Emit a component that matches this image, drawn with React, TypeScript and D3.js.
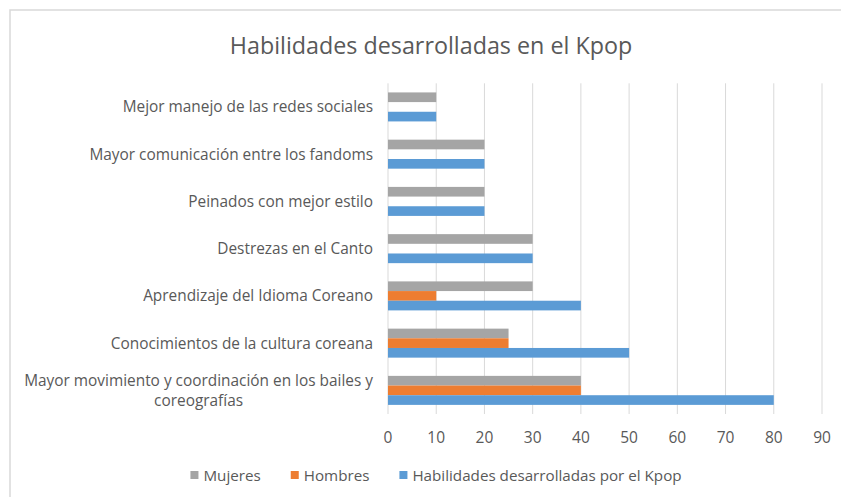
import React, { useEffect, useRef } from 'react';
import * as d3 from 'd3';

// categorias de arriba hacia abajo
const categories = [
  'Mejor manejo de las redes sociales',
  'Mayor comunicación entre los fandoms',
  'Peinados con mejor estilo',
  'Destrezas en el Canto',
  'Aprendizaje del Idioma Coreano',
  'Conocimientos de la cultura coreana',
  'Mayor movimiento y coordinación en los bailes y coreografías',
];
const mujeres = [10, 20, 20, 30, 30, 25, 40];
const hombres = [0, 0, 0, 0, 10, 25, 40];
const habilidades = [10, 20, 20, 30, 40, 50, 80];
const seriesNames = ['Mujeres', 'Hombres', 'Habilidades desarrolladas por el Kpop'];
const seriesColors = ['#a5a5a5', '#ed7d31', '#5b9bd5'];
const xTicks = [0, 10, 20, 30, 40, 50, 60, 70, 80, 90];
const title = 'Habilidades desarrolladas en el Kpop';

const W = 841, H = 497;
const FONT = '"Open Sans", sans-serif';
const TEXT = '#595959';

export default function App() {
  const ref = useRef<SVGSVGElement>(null);

  useEffect(() => {
    document.body.style.margin = '0';
    document.body.style.overflow = 'hidden';
    const svg = d3.select(ref.current);
    svg.selectAll('*').remove();

    const left = 388, right = 822, top = 83.3, bottom = 414;
    const cx = 431;

    // marco del grafico
    svg.append('rect')
      .attr('x', 10).attr('y', 10)
      .attr('width', W + 20).attr('height', H + 20)
      .attr('fill', '#fff')
      .attr('stroke', '#d9d9d9').attr('stroke-width', 1.5);

    svg.append('text')
      .attr('x', cx).attr('y', 45)
      .attr('text-anchor', 'middle').attr('dominant-baseline', 'central')
      .attr('font-family', FONT).attr('font-size', 23.3)
      .attr('fill', TEXT)
      .text(title);

    const x = d3.scaleLinear().domain([0, 90]).range([left, right]);
    const y = d3.scaleBand().domain(categories).range([top, bottom])
      .paddingInner(0.386).paddingOuter(0.193);
    const ys = d3.scaleBand().domain(seriesNames).range([0, y.bandwidth()]);

    // lineas de cuadricula
    svg.append('g').selectAll('line')
      .data(xTicks).enter().append('line')
      .attr('x1', d => x(d)).attr('x2', d => x(d))
      .attr('y1', top).attr('y2', bottom)
      .attr('stroke', '#d9d9d9').attr('stroke-width', 1);

    // etiquetas eje x
    svg.append('g').selectAll('text')
      .data(xTicks).enter().append('text')
      .attr('x', d => x(d)).attr('y', 437)
      .attr('text-anchor', 'middle').attr('dominant-baseline', 'central')
      .attr('font-family', FONT).attr('font-size', 15.5)
      .attr('fill', TEXT)
      .text(d => d);

    // barras
    const values = [mujeres, hombres, habilidades];
    seriesNames.forEach((s, si) => {
      svg.append('g').selectAll('rect')
        .data(categories).enter().append('rect')
        .attr('x', x(0))
        .attr('y', d => (y(d) as number) + (ys(s) as number))
        .attr('width', (d, i) => x(values[si][i]) - x(0))
        .attr('height', ys.bandwidth())
        .attr('fill', seriesColors[si]);
    });

    // etiquetas de categorias (con salto de linea)
    const labelRight = 373, maxW = 360, lineH = 20;
    const gl = svg.append('g')
      .attr('font-family', FONT).attr('font-size', 15.4).attr('fill', TEXT);
    categories.forEach(c => {
      const t = gl.append('text').attr('dominant-baseline', 'central');
      const words = c.split(' ');
      const lines: string[] = [];
      let cur = '';
      words.forEach(w => {
        const test = cur ? cur + ' ' + w : w;
        t.text(test);
        if ((t.node() as SVGTextElement).getComputedTextLength() > maxW && cur) {
          lines.push(cur);
          cur = w;
        } else {
          cur = test;
        }
      });
      lines.push(cur);
      t.text(null);
      const yc = (y(c) as number) + y.bandwidth() / 2;
      if (lines.length === 1) {
        t.attr('x', labelRight).attr('y', yc).attr('text-anchor', 'end').text(lines[0]);
      } else {
        const widths = lines.map(l => { t.text(l); return (t.node() as SVGTextElement).getComputedTextLength(); });
        t.text(null);
        const mid = labelRight - d3.max(widths)! / 2;
        t.attr('text-anchor', 'middle');
        lines.forEach((l, i) => {
          t.append('tspan')
            .attr('x', mid)
            .attr('y', yc + (i - (lines.length - 1) / 2) * lineH)
            .text(l);
        });
      }
    });

    // leyenda
    const lg = svg.append('g').attr('font-family', FONT).attr('font-size', 15.2).attr('fill', TEXT);
    const box = 8, boxGap = 5, itemGap = 30, ly = 475;
    const items = seriesNames.map((s, i) => {
      const t = lg.append('text').attr('dominant-baseline', 'central').attr('y', ly).text(s);
      const w = (t.node() as SVGTextElement).getComputedTextLength();
      return { t, w, i };
    });
    const total = d3.sum(items, d => box + boxGap + d.w) + itemGap * (items.length - 1);
    let lx = 436 - total / 2;
    items.forEach(d => {
      lg.append('rect').attr('x', lx).attr('y', ly - box / 2)
        .attr('width', box).attr('height', box).attr('fill', seriesColors[d.i]);
      d.t.attr('x', lx + box + boxGap);
      lx += box + boxGap + d.w + itemGap;
    });
  }, []);

  return (
    <svg ref={ref} width={W} height={H} style={{ display: 'block' }} />
  );
}
